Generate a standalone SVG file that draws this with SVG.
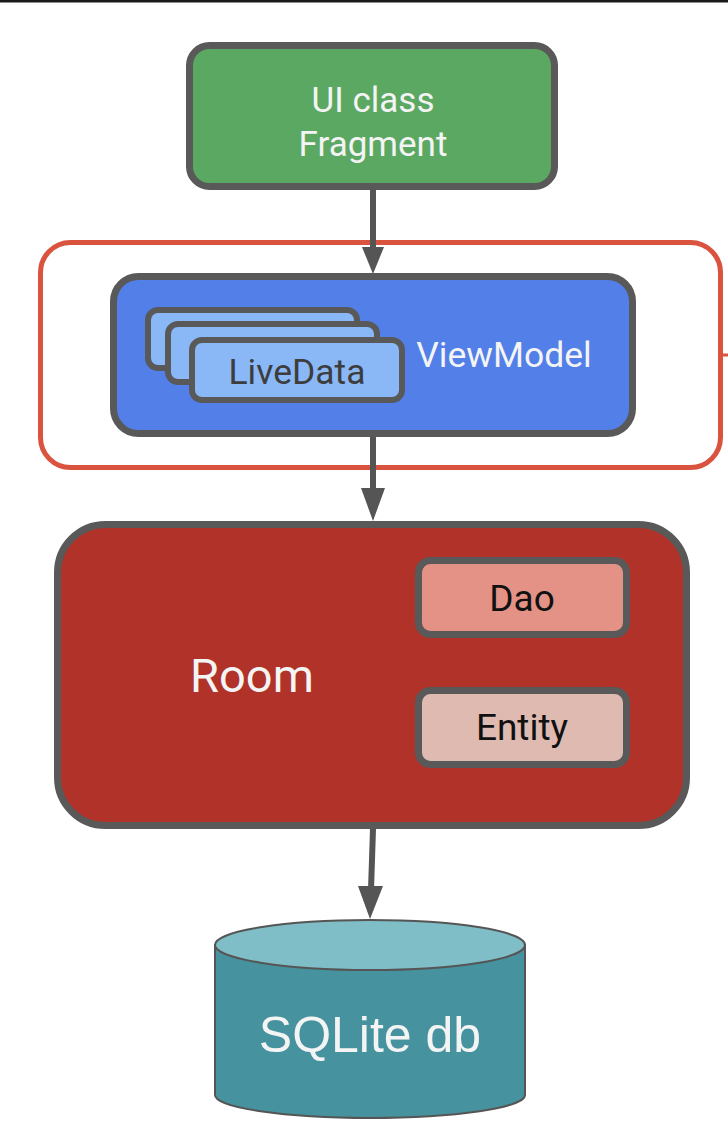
<svg xmlns="http://www.w3.org/2000/svg" width="728" height="1138" viewBox="0 0 728 1138">
<style>
.box{stroke:#595959;stroke-width:7}
.t{font-family:Roboto,"Liberation Sans",sans-serif;text-anchor:middle}
.w{fill:#f4f4f4}
.k{fill:#111}
.conn{stroke:#555;stroke-width:6;fill:none}
.ld{fill:#8ab8f7;stroke:#595959;stroke-width:6}
</style>
<rect x="0" y="0" width="728" height="2.5" fill="#1a1a1a"/>
<g id="scope">
<rect x="40.5" y="242.5" width="680" height="225" rx="30" fill="none" stroke="#d9533f" stroke-width="5"/>
<line x1="720" y1="355" x2="728" y2="355" stroke="#d9533f" stroke-width="3"/>
</g>
<g id="connectors">
<line class="conn" x1="373" y1="190" x2="373" y2="250"/>
<polygon points="362,247 384,247 373,274" fill="#555"/>
<line class="conn" x1="373" y1="437" x2="373" y2="492"/>
<polygon points="361,488 385,488 373,521" fill="#555"/>
<line class="conn" x1="373" y1="829" x2="371" y2="890"/>
<polygon points="358,886 383,886 370,919" fill="#555"/>
</g>
<g id="ui">
<rect class="box" x="189.5" y="45.5" width="365" height="141" rx="20" fill="#5ba862"/>
<text class="t w" x="373" y="112" font-size="35">UI class</text>
<text class="t w" x="373" y="156" font-size="35">Fragment</text>
</g>
<g id="viewmodel">
<rect class="box" x="113.5" y="276.5" width="519" height="157" rx="25" fill="#527fe8"/>
<text class="t w" x="504" y="367" font-size="35.5">ViewModel</text>
</g>
<g id="livedata">
<rect class="ld" x="148" y="310" width="209" height="58" rx="10"/>
<rect class="ld" x="168" y="324" width="209" height="58" rx="10"/>
<rect class="ld" x="192" y="340" width="210" height="60" rx="10"/>
<text class="t" x="297" y="384" font-size="35.5" fill="#3d3d3d">LiveData</text>
</g>
<g id="room">
<rect class="box" x="57.5" y="524.5" width="629" height="301" rx="48" fill="#b03228"/>
<text class="t w" x="252" y="692" font-size="47">Room</text>
</g>
<g id="dao">
<rect class="box" x="418.5" y="560.5" width="208" height="74" rx="12" fill="#e49285"/>
<text class="t k" x="522" y="611" font-size="37">Dao</text>
</g>
<g id="entity">
<rect class="box" x="418.5" y="690.5" width="208" height="74" rx="12" fill="#dfbab1"/>
<text class="t k" x="522" y="740" font-size="37">Entity</text>
</g>
<g id="sqlite">
<path d="M215,945 L215,1095 A155,23 0 0 0 525,1095 L525,945 Z" fill="#46939f" stroke="#555" stroke-width="2"/>
<ellipse cx="370" cy="945" rx="155" ry="25" fill="#7fbec6" stroke="#555" stroke-width="2"/>
<text x="370" y="1052" font-family="'Liberation Sans',Arial,sans-serif" font-size="50" text-anchor="middle" fill="#f4f4f4">SQLite db</text>
</g>
</svg>
